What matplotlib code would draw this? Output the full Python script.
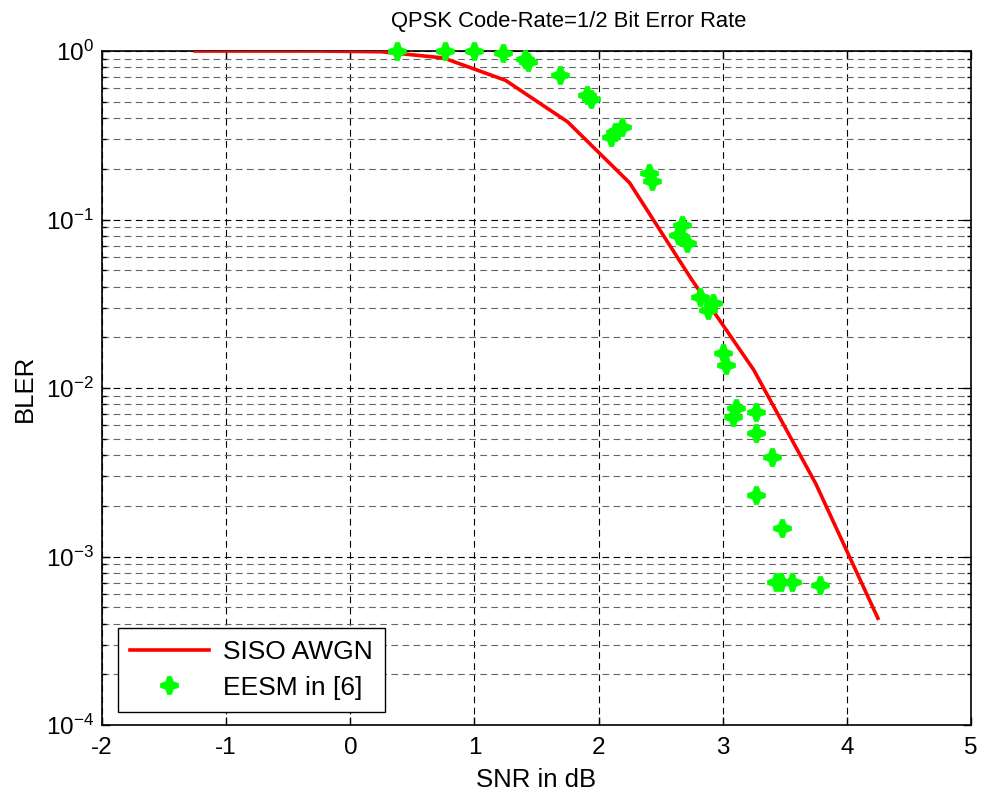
import matplotlib

matplotlib.use("Agg")
import matplotlib.pyplot as plt
from matplotlib.path import Path
from matplotlib.ticker import LogLocator, NullFormatter, FixedLocator

plt.rcParams["font.family"] = ["Liberation Sans", "DejaVu Sans"]
plt.rcParams["mathtext.fontset"] = "custom"
plt.rcParams["mathtext.rm"] = "Liberation Sans"
plt.rcParams["mathtext.it"] = "Liberation Sans"
plt.rcParams["axes.unicode_minus"] = False

# SISO AWGN curve
snr_awgn = [-1.25, -0.75, -0.25, 0.25, 0.75, 1.25, 1.75, 2.25, 2.75, 3.25, 3.75, 4.25]
bler_awgn = [1.0, 1.0, 1.0, 0.99, 0.91, 0.67, 0.38, 0.165, 0.044, 0.0128, 0.0027, 0.00043]

# EESM in [6] scatter
snr_eesm = [0.38, 0.76, 1.0, 1.23, 1.41, 1.43, 1.69, 1.91, 1.94, 2.10, 2.13, 2.19,
            2.41, 2.43, 2.64, 2.67, 2.71, 2.82, 2.88, 2.92, 3.00, 3.03, 3.08, 3.11,
            3.27, 3.27, 3.40, 3.27, 3.48, 3.43, 3.47, 3.56, 3.78]
bler_eesm = [1.0, 1.0, 1.0, 0.97, 0.90, 0.86, 0.72, 0.55, 0.52, 0.31, 0.33, 0.355,
             0.19, 0.17, 0.081, 0.093, 0.073, 0.0347, 0.029, 0.0319, 0.0161, 0.0137, 0.0067, 0.0076,
             0.0072, 0.0054, 0.0039, 0.00232, 0.00147, 0.00071, 0.00071, 0.00071, 0.00068]

# fat plus / diamond marker like MATLAB's thick '+'
fat_plus = Path([(1, 0.22), (0.42, 0.42), (0.22, 1), (-0.22, 1), (-0.42, 0.42), (-1, 0.22),
                 (-1, -0.22), (-0.42, -0.42), (-0.22, -1), (0.22, -1), (0.42, -0.42), (1, -0.22),
                 (1, 0.22)], closed=True)

fig = plt.figure(figsize=(9.83, 7.96), dpi=100)
ax = fig.add_axes([0.1038, 0.0892, 0.8840, 0.8467])

ax.semilogy(snr_awgn, bler_awgn, color="#FF0000", linewidth=2.6, label="SISO AWGN", zorder=3)
ax.semilogy(snr_eesm, bler_eesm, linestyle="none", marker=fat_plus, markersize=13,
            color="#00FF00", markeredgecolor="#00FF00", markeredgewidth=0.5,
            label="EESM in [6]", zorder=4, clip_on=False)

ax.set_xlim(-2, 5)
ax.set_ylim(1e-4, 1)
ax.xaxis.set_major_locator(FixedLocator(range(-2, 6)))
ax.yaxis.set_major_locator(LogLocator(base=10, numticks=10))
ax.yaxis.set_minor_locator(LogLocator(base=10, subs=range(2, 10), numticks=20))
ax.yaxis.set_minor_formatter(NullFormatter())

ax.grid(True, which="major", axis="both", color="black", linestyle=(0, (6, 4)), linewidth=0.8)
ax.grid(True, which="minor", axis="y", color="#666666", linestyle=(0, (6, 4)), linewidth=0.8)

ax.tick_params(which="both", direction="in", top=True, right=True, labelsize=17.5, width=1)
ax.tick_params(which="major", length=6)
ax.tick_params(which="minor", length=3)
ax.tick_params(axis="x", pad=9)
ax.tick_params(axis="y", pad=6)
for s in ax.spines.values():
    s.set_linewidth(1.2)

ax.set_title("QPSK Code-Rate=1/2 Bit Error Rate", fontsize=15.8, pad=17, x=0.537)
ax.set_xlabel("SNR in dB", fontsize=18.5, labelpad=6)
ax.set_ylabel("BLER", fontsize=18.5, labelpad=6)

leg = ax.legend(loc="lower left", fontsize=19, frameon=True, fancybox=False,
                edgecolor="black", framealpha=1, borderpad=0.45, handlelength=3.0,
                handletextpad=0.55, labelspacing=0.45, bbox_to_anchor=(0.018, 0.02),
                borderaxespad=0)
leg.get_frame().set_linewidth(1.0)

fig.savefig("out.png", dpi=100)
